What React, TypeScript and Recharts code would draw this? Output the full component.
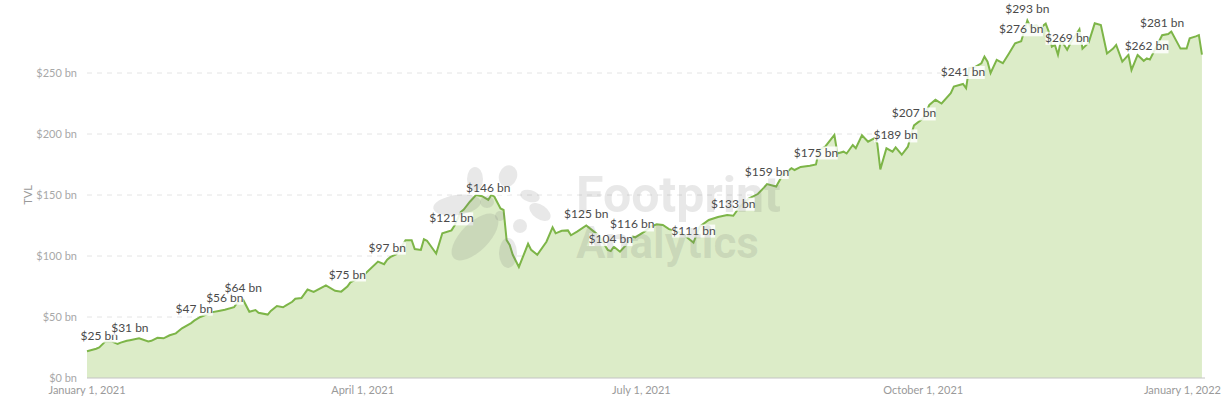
import { AreaChart, Area, XAxis, YAxis, CartesianGrid, LabelList } from "recharts";

const START = Date.UTC(2021, 0, 1);
const DAY = 86400000;

// days since January 1, 2021
const days = [
    0, 3, 4, 6, 8, 10, 11, 13, 14, 17, 20, 21, 23, 25, 27, 29, 31, 34, 35, 37,
    41, 43, 45, 48, 49, 51, 53, 55, 56, 59, 60, 62, 64, 65, 67, 68, 70, 72, 74, 78,
    81, 83, 85, 86, 89, 91, 95, 97, 98, 99, 101, 102, 104, 106, 107, 109, 110, 111, 114, 116,
    119, 120, 122, 123, 125, 127, 129, 131, 132, 133, 135, 136, 137, 138, 139, 141, 144, 145, 147, 150,
    152, 153, 155, 157, 158, 160, 163, 165, 167, 170, 171, 172, 174, 176, 178, 179, 182, 184, 186, 188,
    190, 193, 195, 198, 200, 203, 206, 209, 211, 213, 216, 219, 221, 222, 225, 227, 230, 231, 233, 236,
    238, 239, 241, 244, 245, 247, 248, 250, 251, 253, 255, 257, 258, 259, 261, 263, 264, 266, 268, 269,
    270, 273, 275, 277, 279, 282, 283, 286, 287, 288, 290, 292, 293, 294, 295, 297, 299, 301, 303, 305,
    307, 308, 310, 311, 313, 314, 315, 316, 317, 318, 320, 321, 324, 325, 327, 329, 331, 333, 335, 336,
    338, 340, 341, 343, 345, 346, 347, 348, 351, 353, 354, 357, 359, 360, 362, 363, 364,
];

// TVL, $ bn
const tvl = [
    22, 24, 25, 30, 30, 28, 29, 30.5, 31, 32.5, 30, 30.5, 33, 32.5, 35, 36.6, 40.7, 45, 47, 50,
    54, 55, 56, 58, 61.5, 64, 54.3, 55.7, 53.5, 52, 55, 59, 58, 59.5, 62.5, 65, 65.5, 72.5, 70.5, 76,
    71.5, 70.8, 75, 78.4, 82.5, 85.8, 95.4, 93.3, 97, 99, 101.5, 105, 113, 113, 105.7, 105, 113.7, 112.5, 102, 118.6,
    121, 125, 136, 138, 144.5, 150, 149, 146, 150, 148.6, 139, 137.7, 113, 109, 101, 91, 110, 105, 101, 111.7,
    123.5, 118.6, 120.7, 121, 117, 120, 125, 121, 117, 105, 104, 107.6, 103.5, 109, 116, 115.3, 120, 124, 126, 125.4,
    122, 120, 117, 111, 124, 129.5, 132, 133.6, 133, 140, 147, 150.8, 156, 159, 157, 166, 172, 170.5, 173, 174,
    175, 187, 189.6, 199.2, 184, 185.5, 184, 191, 188.3, 199, 193.7, 196.5, 192.4, 171, 188.3, 185.5, 189, 183, 189.6, 199,
    207, 212.8, 223.8, 228, 225, 233.4, 238.8, 241, 237.5, 254, 255, 258, 263.4, 259.3, 250, 260.7, 258, 266, 274.3, 276,
    293, 288, 289.3, 286.6, 290.5, 283.8, 271.6, 273, 265, 277, 269, 274, 285.8, 270, 274.8, 290.7, 289.3, 266, 270, 273,
    259.3, 264.8, 252.5, 264.8, 260, 262, 261, 266, 281, 282, 284, 270, 270, 278.4, 280, 281, 265,
];

// days that carry a value label
const labelDays = [4, 14, 35, 45, 51, 85, 98, 119, 131, 163, 171, 178, 198, 211, 222, 238, 264, 270, 286, 305, 307, 320, 346, 351];

const xTicks = [START, Date.UTC(2021, 3, 1), Date.UTC(2021, 6, 1), Date.UTC(2021, 9, 1), Date.UTC(2022, 0, 1)];
const yTicks = [0, 50, 100, 150, 200, 250];

const MONTHS = ["January", "February", "March", "April", "May", "June", "July", "August", "September", "October", "November", "December"];

const data = days.map((d, i) => ({
    t: START + d * DAY,
    tvl: tvl[i],
    lbl: labelDays.includes(d) ? tvl[i] : null,
}));

const fmtDate = (t: number) => {
    const d = new Date(t);
    return `${MONTHS[d.getUTCMonth()]} ${d.getUTCDate()}, ${d.getUTCFullYear()}`;
};

const XTick = (props: any) => {
    const { x, y, payload, index } = props;
    const last = index === xTicks.length - 1;
    return (
        <text
            x={last ? 1221 : x}
            y={y}
            dy="0.71em"
            textAnchor={last ? "end" : "middle"}
            fill="#9a9a9a"
            fontSize={11}
            fontFamily="Lato"
        >
            {fmtDate(payload.value)}
        </text>
    );
};

const ValueLabel = (props: any) => {
    const { x, y, value } = props;
    if (value == null) return null;
    const text = `$${Math.round(value)} bn`;
    const w = text.length * 6.2;
    return (
        <g>
            <rect x={x - w / 2} y={y - 18} width={w} height={13} fill="#ffffff" fillOpacity={0.85} />
            <text x={x} y={y - 8} textAnchor="middle" fill="#4a4a4a" fontSize={12} fontFamily="Lato">
                {text}
            </text>
        </g>
    );
};

const YTitle = () => (
    <text x={32} y={195} transform="rotate(-90 32 195)" textAnchor="middle" fill="#9a9a9a" fontSize={11} fontFamily="Lato">
        TVL
    </text>
);

const WM = "rgba(110,110,110,0.16)";

export default function App() {
    return (
        <div style={{ position: "absolute", left: 0, top: 0, width: 1222, height: 401, fontFamily: "Lato" }}>
            <AreaChart width={1222} height={401} data={data} margin={{ top: 12, right: 17, bottom: 0, left: 0 }}>
                <CartesianGrid
                    vertical={false}
                    horizontalValues={[50, 100, 150, 200, 250]}
                    stroke="#e4e4e4"
                    strokeDasharray="5 5"
                />
                <XAxis
                    dataKey="t"
                    type="number"
                    domain={[START, Date.UTC(2022, 0, 1)]}
                    ticks={xTicks}
                    height={23}
                    tickLine={false}
                    axisLine={{ stroke: "#c4c4c4" }}
                    tick={<XTick />}
                />
                <YAxis
                    domain={[0, 300]}
                    ticks={yTicks}
                    width={87}
                    axisLine={false}
                    tickLine={false}
                    tickMargin={4}
                    tickFormatter={(v: number) => `$${v} bn`}
                    tick={{ fill: "#a8a8a8", fontSize: 11, fontFamily: "Lato" }}
                    label={<YTitle />}
                />
                <Area
                    type="linear"
                    dataKey="tvl"
                    stroke="#7db548"
                    strokeWidth={2}
                    fill="#dcecc8"
                    fillOpacity={1}
                    dot={false}
                    activeDot={false}
                    isAnimationActive={false}
                >
                    <LabelList dataKey="lbl" content={<ValueLabel />} />
                </Area>
            </AreaChart>

            {/* watermark */}
            <svg width={1222} height={401} style={{ position: "absolute", left: 0, top: 0, pointerEvents: "none" }}>
                <g fill={WM}>
                    <ellipse cx={457} cy={205} rx={24} ry={10} transform="rotate(-8 457 205)" />
                    <ellipse cx={475} cy={237} rx={30} ry={14} transform="rotate(-45 475 237)" />
                    <ellipse cx={475} cy={179} rx={8} ry={12} />
                    <ellipse cx={508} cy={176} rx={9} ry={11} transform="rotate(20 508 176)" />
                    <ellipse cx={487} cy={202} rx={7} ry={6} />
                    <ellipse cx={530} cy={196} rx={10} ry={6} transform="rotate(15 530 196)" />
                    <ellipse cx={540} cy={212} rx={12} ry={7} transform="rotate(35 540 212)" />
                    <ellipse cx={520} cy={226} rx={7} ry={7} />
                    <ellipse cx={508} cy={253} rx={9} ry={15} />
                    <ellipse cx={500} cy={216} rx={5} ry={5} />
                </g>
                <text x={576} y={212} fontFamily="Roboto" fontWeight={700} fontSize={50} fill={WM}>
                    Footprint
                </text>
                <text x={576} y={258} fontFamily="Roboto" fontWeight={700} fontSize={44} fill={WM}>
                    Analytics
                </text>
            </svg>
        </div>
    );
}
